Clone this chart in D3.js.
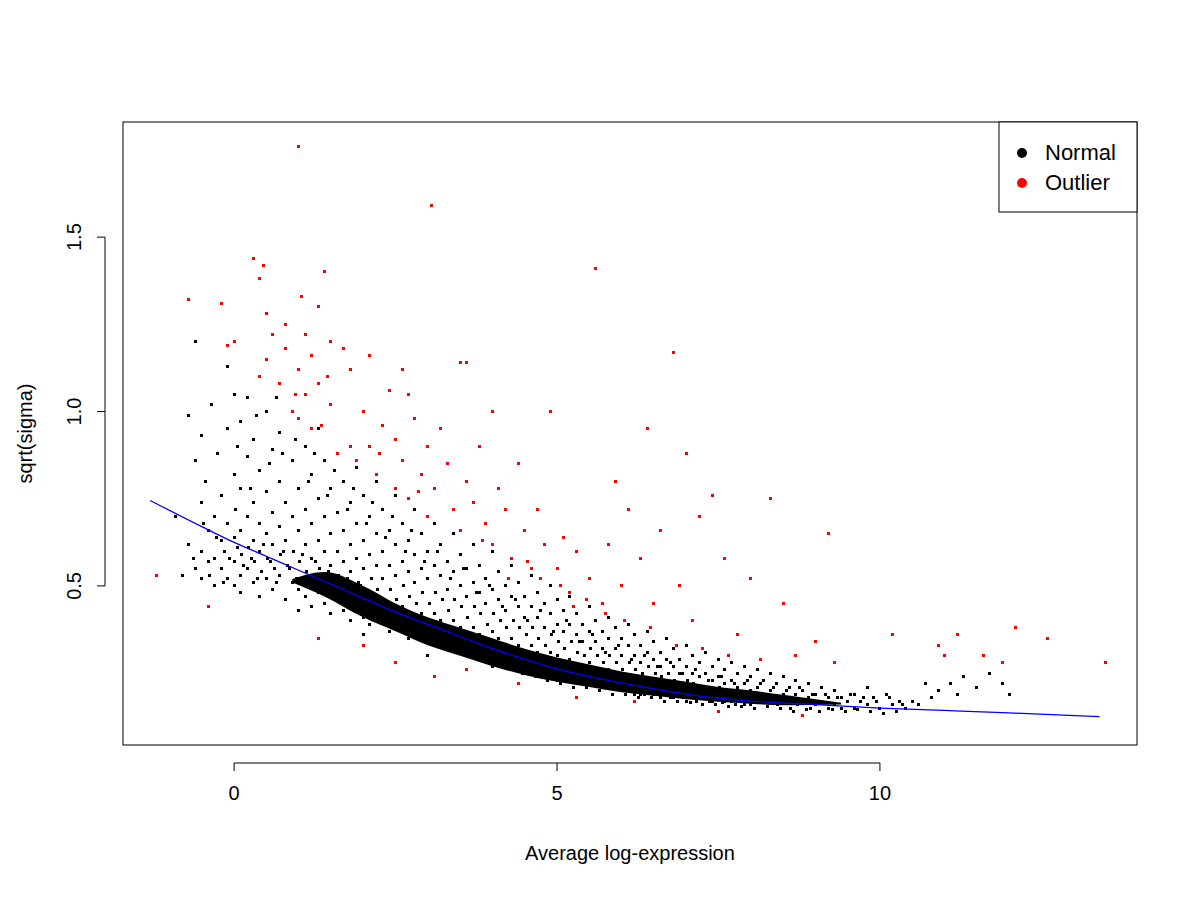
<!DOCTYPE html>
<html><head><meta charset="utf-8">
<script src="https://cdn.jsdelivr.net/npm/d3@7"></script>
<style>body{margin:0;background:#fff}text{font-family:"Liberation Sans",Arial,sans-serif}</style>
</head><body><svg id="chart" width="1200" height="900"></svg>
<script>
// values: [average log-expression, sqrt(sigma)]
const normalPts = [
[-0.9,0.70],[-0.8,0.53],[-0.7,0.99],[-0.7,0.62],[-0.6,1.20],[-0.6,0.86],[-0.6,0.55],[-0.5,0.93],[-0.5,0.74],[-0.5,0.60],[-0.5,0.52],[-0.45,0.80],[-0.4,0.66],[-0.4,0.57],[-0.35,1.02],[-0.3,0.70],[-0.3,0.58],[-0.3,0.50],[-0.25,0.88],[-0.2,0.76],[-0.2,0.63],[-0.2,0.55],[-0.1,1.13],[-0.1,0.95],[-0.1,0.68],[-0.15,0.60],[-0.1,0.52],[0,1.05],[0,0.82],[0.02,0.72],[0,0.64],[0,0.57],[0,0.50],[0.1,0.97],[0.1,0.78],[0.1,0.66],[0.12,0.59],[0.1,0.53],[0.1,0.48],[0.2,1.04],[0.2,0.87],[0.2,0.70],[0.22,0.61],[0.2,0.55],[0.3,0.92],[0.3,0.74],[0.3,0.63],[0.32,0.57],[0.3,0.51],[0.4,0.83],[0.4,0.68],[0.4,0.60],[0.42,0.54],[0.4,0.47],[0.5,1.00],[0.5,0.77],[0.5,0.65],[0.52,0.58],[0.5,0.52],[0.6,0.89],[0.6,0.71],[0.6,0.62],[0.62,0.55],[0.6,0.49],[0.7,0.94],[0.7,0.80],[0.7,0.67],[0.72,0.59],[0.7,0.53],[0.8,0.74],[0.8,0.63],[0.82,0.56],[0.8,0.46],[0.9,0.86],[0.9,0.70],[0.92,0.60],[0.9,0.51],[1.0,0.98],[1.0,0.78],[1.0,0.66],[1.02,0.57],[1.0,0.49],[1.0,0.43],
[1.1,0.90],[1.1,0.72],[1.1,0.62],[1.12,0.54],[1.1,0.47],[1.2,0.82],[1.2,0.68],[1.2,0.58],[1.22,0.51],[1.2,0.44],[1.3,0.95],[1.3,0.75],[1.3,0.63],[1.32,0.55],[1.3,0.48],[1.4,0.86],[1.4,0.70],[1.4,0.60],[1.42,0.52],[1.4,0.45],[1.5,0.78],[1.5,0.65],[1.5,0.56],[1.52,0.49],[1.5,0.42],[1.6,0.88],[1.6,0.71],[1.6,0.60],[1.62,0.53],[1.6,0.46],[1.7,0.80],[1.7,0.66],[1.7,0.57],[1.72,0.50],[1.7,0.43],[1.8,0.74],[1.8,0.62],[1.8,0.54],[1.82,0.47],[1.8,0.40],[1.9,0.84],[1.9,0.68],[1.9,0.58],[1.92,0.51],[1.9,0.44],[2.0,0.76],[2.0,0.63],[2.0,0.55],[2.02,0.48],[2.0,0.41],[2.0,0.36],
[2.1,0.70],[2.1,0.59],[2.12,0.52],[2.1,0.45],[2.1,0.39],[2.2,0.80],[2.2,0.65],[2.2,0.56],[2.22,0.49],[2.2,0.42],[2.3,0.72],[2.3,0.60],[2.3,0.52],[2.32,0.46],[2.3,0.40],[2.4,0.66],[2.4,0.56],[2.42,0.49],[2.4,0.43],[2.4,0.37],[2.5,0.76],[2.5,0.62],[2.5,0.53],[2.52,0.46],[2.5,0.40],[2.6,0.68],[2.6,0.57],[2.62,0.50],[2.6,0.44],[2.6,0.38],[2.7,0.63],[2.7,0.54],[2.72,0.47],[2.7,0.41],[2.7,0.35],[2.8,0.72],[2.8,0.59],[2.8,0.51],[2.82,0.45],[2.8,0.39],[2.9,0.65],[2.9,0.55],[2.92,0.48],[2.9,0.42],[2.9,0.36],[3.0,0.60],[3.0,0.52],[3.02,0.45],[3.0,0.40],[3.0,0.34],[3.0,0.30],
[3.1,0.68],[3.1,0.56],[3.12,0.48],[3.1,0.42],[3.1,0.37],[3.2,0.62],[3.2,0.53],[3.22,0.46],[3.2,0.40],[3.2,0.35],[3.3,0.57],[3.3,0.49],[3.32,0.43],[3.3,0.38],[3.3,0.32],[3.4,0.65],[3.4,0.54],[3.42,0.46],[3.4,0.40],[3.4,0.35],[3.5,0.59],[3.5,0.50],[3.52,0.44],[3.5,0.38],[3.5,0.33],[3.6,0.55],[3.6,0.47],[3.62,0.41],[3.6,0.36],[3.6,0.31],[3.7,0.62],[3.7,0.51],[3.72,0.44],[3.7,0.38],[3.7,0.33],[3.8,0.56],[3.8,0.48],[3.82,0.42],[3.8,0.36],[3.8,0.31],[3.9,0.52],[3.9,0.45],[3.92,0.39],[3.9,0.34],[3.9,0.29],[4.0,0.60],[4.0,0.49],[4.02,0.42],[4.0,0.37],[4.0,0.32],[4.0,0.27],
[4.1,0.54],[4.1,0.46],[4.12,0.40],[4.1,0.35],[4.1,0.30],[4.2,0.50],[4.2,0.43],[4.22,0.38],[4.2,0.33],[4.2,0.28],[4.3,0.56],[4.3,0.47],[4.32,0.40],[4.3,0.35],[4.3,0.30],[4.4,0.51],[4.4,0.44],[4.42,0.38],[4.4,0.33],[4.4,0.28],[4.5,0.47],[4.5,0.41],[4.52,0.36],[4.5,0.31],[4.5,0.27],[4.6,0.53],[4.6,0.44],[4.62,0.38],[4.6,0.33],[4.6,0.28],[4.7,0.48],[4.7,0.41],[4.72,0.35],[4.7,0.31],[4.7,0.26],[4.8,0.45],[4.8,0.38],[4.82,0.33],[4.8,0.29],[4.8,0.25],[4.9,0.50],[4.9,0.42],[4.92,0.36],[4.9,0.31],[4.9,0.27],[5.0,0.46],[5.0,0.39],[5.02,0.34],[5.0,0.30],[5.0,0.26],[5.0,0.23],
[5.1,0.43],[5.1,0.37],[5.12,0.32],[5.1,0.28],[5.1,0.24],[5.2,0.47],[5.2,0.39],[5.22,0.34],[5.2,0.29],[5.2,0.25],[5.3,0.42],[5.3,0.36],[5.32,0.31],[5.3,0.27],[5.3,0.23],[5.4,0.39],[5.4,0.34],[5.42,0.30],[5.4,0.26],[5.4,0.22],[5.5,0.44],[5.5,0.37],[5.52,0.32],[5.5,0.28],[5.5,0.24],[5.6,0.40],[5.6,0.34],[5.62,0.30],[5.6,0.26],[5.6,0.22],[5.7,0.37],[5.7,0.32],[5.72,0.28],[5.7,0.24],[5.7,0.21],[5.8,0.41],[5.8,0.35],[5.82,0.30],[5.8,0.26],[5.8,0.22],[5.9,0.38],[5.9,0.32],[5.92,0.28],[5.9,0.24],[5.9,0.21],[6.0,0.35],[6.0,0.30],[6.02,0.26],[6.0,0.23],[6.0,0.20],
[6.1,0.39],[6.1,0.33],[6.12,0.28],[6.1,0.24],[6.1,0.21],[6.2,0.36],[6.2,0.30],[6.22,0.26],[6.2,0.23],[6.2,0.19],[6.3,0.33],[6.3,0.28],[6.32,0.25],[6.3,0.22],[6.3,0.19],[6.4,0.37],[6.4,0.31],[6.42,0.27],[6.4,0.23],[6.4,0.20],[6.5,0.34],[6.5,0.29],[6.52,0.25],[6.5,0.22],[6.5,0.19],[6.6,0.31],[6.6,0.27],[6.62,0.24],[6.6,0.21],[6.6,0.18],[6.7,0.35],[6.7,0.29],[6.72,0.25],[6.7,0.22],[6.7,0.19],[6.8,0.32],[6.8,0.27],[6.82,0.23],[6.8,0.20],[6.8,0.18],[6.9,0.29],[6.9,0.25],[6.92,0.22],[6.9,0.19],[7.0,0.33],[7.0,0.27],[7.02,0.23],[7.0,0.20],[7.0,0.17],
[7.1,0.30],[7.1,0.25],[7.12,0.22],[7.1,0.19],[7.2,0.28],[7.2,0.24],[7.22,0.21],[7.2,0.18],[7.3,0.31],[7.3,0.25],[7.32,0.21],[7.3,0.18],[7.4,0.27],[7.4,0.23],[7.42,0.20],[7.4,0.17],[7.5,0.29],[7.5,0.24],[7.52,0.21],[7.5,0.18],[7.6,0.26],[7.6,0.22],[7.62,0.19],[7.6,0.17],[7.7,0.28],[7.7,0.23],[7.72,0.20],[7.7,0.17],[7.8,0.25],[7.8,0.21],[7.82,0.18],[7.9,0.27],[7.9,0.22],[7.92,0.19],[7.9,0.16],[8.0,0.24],[8.0,0.20],[8.02,0.18],[8.0,0.16],
[8.1,0.26],[8.1,0.21],[8.12,0.18],[8.2,0.23],[8.2,0.19],[8.22,0.17],[8.3,0.25],[8.3,0.20],[8.32,0.17],[8.4,0.22],[8.4,0.18],[8.42,0.16],[8.5,0.24],[8.5,0.19],[8.52,0.17],[8.6,0.21],[8.6,0.18],[8.62,0.15],[8.7,0.23],[8.7,0.19],[8.72,0.16],[8.8,0.20],[8.8,0.17],[8.9,0.22],[8.9,0.18],[8.92,0.15],[9.0,0.19],[9.0,0.16],[9.1,0.21],[9.1,0.17],[9.2,0.18],[9.2,0.15],[9.3,0.20],[9.3,0.16],[9.4,0.18],[9.4,0.15],[9.5,0.17],[9.6,0.19],[9.6,0.15],[9.7,0.17],[9.8,0.21],[9.8,0.16],[9.9,0.18],[10.0,0.15],[10.1,0.19],[10.2,0.16],[10.3,0.17],[10.4,0.15],[10.5,0.17],[10.7,0.22],[10.9,0.20],[11.1,0.22],[11.3,0.24],[11.5,0.21],[12.0,0.19]
];
// second pass of black points, read between the first ones
const normalPts2 = [
[-0.63,0.58],[-0.47,0.68],[-0.38,0.53],[-0.27,0.64],[-0.17,0.51],[-0.07,0.58],[0.05,0.61],[0.15,0.56],[0.27,0.58],[0.37,0.52],[0.46,0.62],[0.56,0.57],[0.66,0.51],[0.76,0.60],[0.86,0.55],[0.96,0.52],[1.06,0.59],[1.16,0.53],[1.26,0.57],[1.36,0.49],[1.46,0.54],[1.56,0.50],[1.66,0.47],[1.76,0.52],[1.86,0.45],[1.96,0.50],[2.06,0.43],[2.16,0.47],[2.26,0.42],[2.36,0.45],[2.46,0.41],[2.56,0.43],[2.66,0.38],[2.76,0.42],[2.86,0.37],[2.96,0.40],[3.06,0.35],[3.16,0.38],[3.26,0.34],[3.36,0.37],[3.46,0.32],[3.56,0.34],[3.66,0.30],[3.76,0.33],[3.86,0.30],[3.96,0.31],[4.06,0.28],[4.16,0.30],[4.26,0.27],[4.36,0.29],[4.46,0.25],[4.56,0.27],[4.66,0.24],[4.76,0.27],[4.86,0.23],[4.96,0.25],[5.06,0.22],[5.16,0.24],[5.26,0.21],[5.36,0.23],[5.46,0.21],[5.56,0.23],[5.66,0.20],[5.76,0.22],[5.86,0.19],[5.96,0.21],[6.06,0.19],[6.16,0.20],[6.26,0.18],[6.36,0.19],[6.46,0.18],[6.56,0.19],[6.66,0.17],[6.76,0.18],[6.86,0.17],[6.96,0.18],[7.06,0.165],[7.16,0.17],[7.26,0.16],[7.36,0.17],[7.46,0.16],[7.56,0.165],[7.66,0.155],[7.76,0.16],[7.86,0.155],[7.96,0.17],[8.06,0.15],[8.26,0.155],[8.46,0.15],[8.66,0.14],[8.86,0.145],[9.06,0.14],[9.26,0.145],[9.46,0.14],[9.66,0.145],[9.86,0.14],[10.06,0.135],[10.26,0.14],
[0.05,0.90],[0.25,0.78],[0.35,0.99],[0.55,0.85],[0.65,1.04],[0.75,0.88],[0.95,0.92],[1.15,0.80],[1.25,0.88],[1.45,0.76],[1.55,0.83],[1.75,0.72],[1.85,0.78],[2.05,0.68],[2.15,0.74],[2.35,0.64],[2.45,0.70],[2.65,0.60],[2.75,0.66],[2.95,0.57],[3.15,0.60],[3.35,0.52],[3.55,0.55],[3.75,0.48],[3.95,0.50],[4.15,0.44],[4.35,0.46],[4.55,0.40],[4.75,0.43],[4.95,0.37],[5.15,0.40],[5.35,0.34],[5.55,0.36],[5.75,0.31],[5.95,0.33],[6.15,0.29],[6.35,0.30],[6.55,0.27],[6.75,0.28],[6.95,0.25],[7.15,0.26],[7.35,0.23],[7.55,0.24],[7.75,0.22],[7.95,0.23],[8.15,0.22],[8.35,0.21],[8.55,0.20],[8.75,0.21],[8.95,0.19],[9.15,0.19],[9.35,0.18],[9.55,0.19],[9.75,0.18],[9.95,0.17],[10.15,0.18],[10.35,0.16],[10.6,0.16],[10.8,0.18],[11.2,0.19],[11.7,0.25],[11.9,0.22]
];
const outlierPts = [
[-1.2,0.53],[-0.7,1.32],[-0.4,0.44],[-0.2,1.31],[0,1.2],[-0.1,1.19],[0.3,1.44],[0.4,1.38],[0.45,1.42],[0.5,1.28],[0.5,1.15],[0.4,1.1],[0.6,1.22],[0.7,1.08],[0.8,1.25],[0.8,1.18],[1.0,1.76],[1.0,1.12],[0.9,1.0],[1.0,0.98],[1.1,1.22],[1.1,1.05],[1.05,1.33],[1.2,1.16],[1.2,0.95],[1.3,1.3],[1.3,1.08],[1.35,0.96],[1.4,1.40],[1.5,1.2],[1.5,1.02],[1.6,0.88],[1.7,1.18],[1.8,1.12],[1.8,0.9],[1.9,0.86],[2.0,1.0],[2.1,1.16],[2.1,0.9],[2.2,0.82],[2.3,0.96],[2.4,1.06],[2.5,0.92],[2.5,0.78],[2.6,1.12],[2.6,0.86],[2.7,1.05],[2.7,0.75],[2.8,0.98],[2.9,0.82],[3.0,0.90],[3.0,0.70],[3.05,1.59],[3.1,0.78],[3.2,0.95],[3.3,0.85],[3.4,0.72],[3.5,1.14],[3.5,0.66],[3.6,1.14],[3.6,0.80],[3.7,0.74],[3.8,0.90],[3.9,0.68],[4.0,1.0],[4.0,0.62],[4.1,0.78],[4.2,0.72],[4.3,0.58],[4.4,0.85],[4.5,0.66],[4.6,0.55],[4.7,0.72],[4.8,0.62],[4.9,1.0],[5.0,0.55],[5.1,0.64],[5.2,0.48],[5.3,0.60],[5.5,0.52],[5.6,1.41],[5.7,0.45],[5.8,0.62],[5.9,0.80],[6.0,0.50],[6.1,0.72],[6.3,0.58],[6.4,0.95],[6.5,0.45],[6.6,0.66],[6.8,1.17],[6.9,0.50],[7.0,0.88],[7.1,0.40],[7.2,0.70],[7.4,0.76],[7.6,0.58],[7.8,0.36],[8.0,0.52],[8.3,0.75],[8.5,0.45],[8.7,0.30],[9.0,0.34],[9.2,0.65],[9.3,0.28],[10.2,0.36],[10.9,0.33],[11.0,0.30],[11.2,0.36],[11.6,0.30],[11.9,0.28],[12.1,0.38],[12.6,0.35],[13.5,0.28],
[1.3,0.35],[2.5,0.28],[3.1,0.24],[4.4,0.22],[5.3,0.18],[6.2,0.17],[7.5,0.14],[8.8,0.13],[2.0,0.33],[3.6,0.26],
[4.55,0.57],[4.75,0.52],[5.05,0.50],[5.45,0.46],[5.75,0.42],[6.05,0.40],[3.85,0.63],[4.25,0.52],[5.25,0.44],[6.45,0.38],[6.85,0.33],[7.25,0.32],[7.65,0.30],[8.15,0.29],[1.45,1.1],[0.95,1.05],[2.25,0.88],[2.85,0.77]
];
// band where the black points merge into a solid mass (tapers at both ends)
const coreX  = [0.9,1.4,2,2.5,3,3.5,4,4.5,5,5.5,6,6.5,7,7.5,8,8.5,9.4];
const coreLo = [0.51,0.47,0.41,0.37,0.33,0.30,0.27,0.245,0.225,0.21,0.195,0.185,0.175,0.168,0.162,0.158,0.16];
const coreHi = [0.52,0.54,0.50,0.45,0.41,0.38,0.35,0.32,0.295,0.275,0.255,0.24,0.225,0.21,0.20,0.188,0.165];
// lowess trend
const trendX = [-1.3,-0.5,0,0.5,1,1.5,2,2.5,3,3.5,4,4.5,5,5.5,6,6.5,7,7.5,8,9,10,11,12,13.4];
const trendY = [0.745,0.67,0.625,0.585,0.545,0.505,0.465,0.425,0.39,0.355,0.32,0.29,0.262,0.24,0.222,0.205,0.19,0.178,0.17,0.16,0.15,0.143,0.136,0.125];
const xTicks = [0,5,10], yTicks = [0.5,1.0,1.5];

const svg = d3.select('#chart');
const m = {l:123, r:1137, t:122, b:745};
const x = d3.scaleLinear().domain([-1.72,13.98]).range([m.l,m.r]);
const y = d3.scaleLinear().domain([0.044,1.83]).range([m.b,m.t]);

svg.append('path').datum(coreX.map((v,i) => [v, coreLo[i], coreHi[i]]))
  .attr('d', d3.area().x(d => x(d[0])).y0(d => y(d[1])).y1(d => y(d[2])).curve(d3.curveMonotoneX))
  .attr('fill', '#000');

const pts = (g, data, col) => g.selectAll('rect').data(data).join('rect')
  .attr('x', d => Math.round(x(d[0])-1.5)).attr('y', d => Math.round(y(d[1])-1.5))
  .attr('width', 3).attr('height', 3).attr('fill', col).attr('shape-rendering', 'crispEdges');
pts(svg.append('g'), normalPts, '#000');
pts(svg.append('g'), normalPts2, '#000');
pts(svg.append('g'), outlierPts, '#ff0000');

svg.append('path').datum(trendX.map((v,i) => [v, trendY[i]]))
  .attr('d', d3.line().x(d => x(d[0])).y(d => y(d[1])).curve(d3.curveMonotoneX))
  .attr('fill', 'none').attr('stroke', '#0000ff').attr('stroke-width', 1.3);

svg.append('rect').attr('x', m.l).attr('y', m.t).attr('width', m.r-m.l).attr('height', m.b-m.t)
  .attr('fill', 'none').attr('stroke', '#000');

const xa = svg.append('g').attr('transform', `translate(0,${m.b+18})`);
xa.append('line').attr('x1', x(0)).attr('x2', x(10)).attr('stroke', '#000');
xTicks.forEach(t => {
  xa.append('line').attr('x1', x(t)).attr('x2', x(t)).attr('y2', 8).attr('stroke', '#000');
  xa.append('text').attr('x', x(t)).attr('y', 37).attr('text-anchor', 'middle').attr('font-size', 20).text(t);
});
const ya = svg.append('g').attr('transform', `translate(${m.l-18},0)`);
ya.append('line').attr('y1', y(0.5)).attr('y2', y(1.5)).attr('stroke', '#000');
yTicks.forEach(t => {
  ya.append('line').attr('y1', y(t)).attr('y2', y(t)).attr('x2', -8).attr('stroke', '#000');
  ya.append('text').attr('transform', `translate(-24,${y(t)}) rotate(-90)`).attr('text-anchor', 'middle')
    .attr('font-size', 20).text(t.toFixed(1));
});
svg.append('text').attr('x', (m.l+m.r)/2).attr('y', 860).attr('text-anchor', 'middle').attr('font-size', 20).text('Average log-expression');
svg.append('text').attr('transform', `translate(32,${(m.t+m.b)/2}) rotate(-90)`).attr('text-anchor', 'middle').attr('font-size', 20).text('sqrt(sigma)');

const lg = svg.append('g');
lg.append('rect').attr('x', 999).attr('y', m.t).attr('width', m.r-999).attr('height', 90).attr('fill', '#fff').attr('stroke', '#000');
[['Normal','#000'],['Outlier','#ff0000']].forEach((d,i) => {
  lg.append('circle').attr('cx', 1022).attr('cy', 153+i*30).attr('r', 5).attr('fill', d[1]);
  lg.append('text').attr('x', 1045).attr('y', 160+i*30).attr('font-size', 22).text(d[0]);
});
</script></body></html>
